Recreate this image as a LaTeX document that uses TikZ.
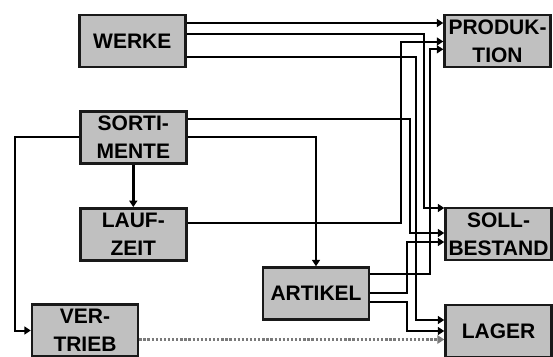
\documentclass[tikz,border=0pt]{standalone}
\usepackage{fontspec}
\setmainfont{Liberation Sans}
\usetikzlibrary{arrows.meta}
\definecolor{boxgray}{HTML}{C0C0C0}
\definecolor{dotgray}{HTML}{7A7A7A}
\begin{document}
\begin{tikzpicture}[x=1pt,y=-1pt,
  box/.style={draw=black!90, line width=2.4pt, fill=boxgray, minimum width=106pt, minimum height=52pt, inner sep=0pt, align=center, font=\fontsize{21}{28}\selectfont\bfseries},
  conn/.style={draw=black, line width=2pt, -{Triangle[length=6.5pt,width=8pt]}},
  thickconn/.style={conn, line width=2.8pt},
  dotconn/.style={draw=dotgray, line width=3pt, dash pattern=on 2.3pt off 1.8pt, -{Triangle[length=7pt,width=8.5pt,fill=dotgray]}}
]
\path[use as bounding box, clip] (0,0) rectangle (553,356);

\node[box] (werke) at (132.3,41) {WERKE};
\node[box] (prod) at (497.5,41) {PRODUK-\\TION};
\node[box] (sort) at (133.3,137.3) {SORTI-\\MENTE};
\node[box] (lauf) at (133.3,234.3) {LAUF-\\ZEIT};
\node[box] (artikel) at (316,293.5) {ARTIKEL};
\node[box] (soll) at (498.5,234.2) {SOLL-\\BESTAND};
\node[box] (lager) at (498.5,331) {LAGER};
\node[box] (vertrieb) at (85,330.5) {VER-\\TRIEB};

% WERKE
\draw[thickconn] (werke.east |- 0,23) -- (prod.west |- 0,23);
\draw[conn] (werke.east |- 0,34) -- (424,34) -- (424,208) -- (soll.west |- 0,208);
\draw[conn] (werke.east |- 0,57) -- (415.5,57) -- (415.5,320) -- (lager.west |- 0,320);

% SORTIMENTE
\draw[conn] (sort.east |- 0,119.3) -- (409.5,119.3) -- (409.5,233) -- (soll.west |- 0,233);
\draw[conn] (sort.east) -| (artikel.north);
\draw[conn] (sort.west) -- (15,137.3) |- (vertrieb.west);
\draw[thickconn] (sort.south) -- (lauf.north);

% LAUFZEIT
\draw[conn] (lauf.east |- 0,223) -- (400.5,223) -- (400.5,41.5) -- (prod.west |- 0,41.5);

% ARTIKEL
\draw[conn] (artikel.east |- 0,274.3) -- (430,274.3) -- (430,49.3) -- (prod.west |- 0,49.3);
\draw[conn] (artikel.east |- 0,292.7) -- (407,292.7) -- (407,242) -- (soll.west |- 0,242);
\draw[conn] (artikel.east |- 0,302.3) -- (407,302.3) -- (407,331) -- (lager.west |- 0,331);

% VERTRIEB
\draw[dotconn] (vertrieb.east |- 0,339.5) -- (lager.west |- 0,339.5);
\end{tikzpicture}
\end{document}
